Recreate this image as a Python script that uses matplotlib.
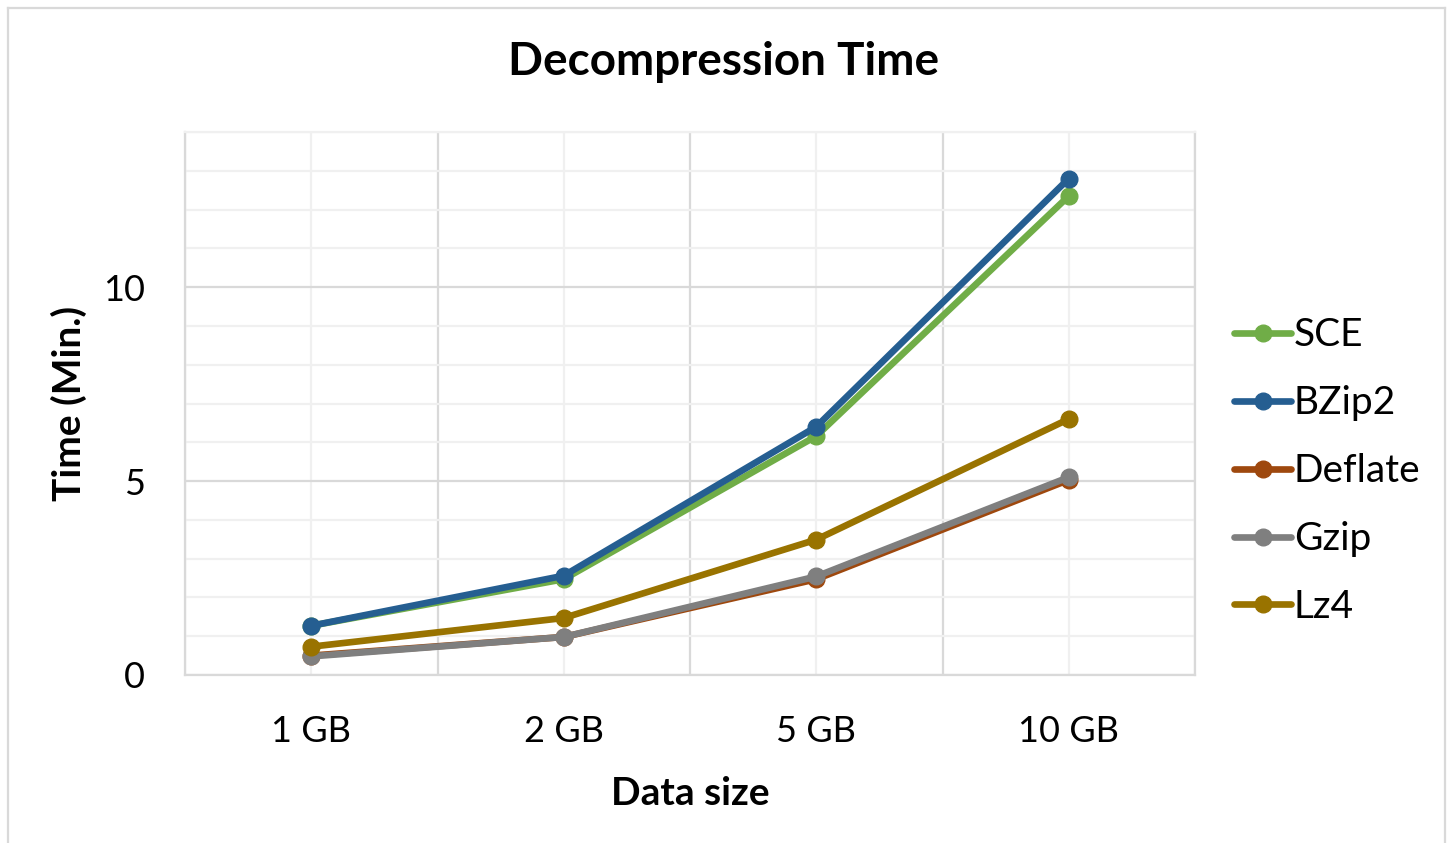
import matplotlib.pyplot as plt
import numpy as np
from matplotlib.lines import Line2D

plt.rcParams['font.family'] = ['Lato', 'DejaVu Sans']

sizes = ["1 GB", "2 GB", "5 GB", "10 GB"]
sce = [1.27, 2.47, 6.16, 12.35]
bzip2 = [1.27, 2.56, 6.40, 12.80]
deflate = [0.50, 0.98, 2.47, 5.03]
gzip = [0.48, 0.98, 2.54, 5.10]
lz4 = [0.73, 1.47, 3.49, 6.60]

series = [
    ("SCE", sce, "#70AD47"),
    ("BZip2", bzip2, "#255E91"),
    ("Deflate", deflate, "#9E480E"),
    ("Gzip", gzip, "#7F7F7F"),
    ("Lz4", lz4, "#997300"),
]

fig = plt.figure(figsize=(14.48, 8.43), dpi=100)
ax = fig.add_axes([185 / 1448, 168 / 843, 1010 / 1448, 543 / 843])

x = np.arange(len(sizes)) + 0.5
for name, vals, col in series:
    ax.plot(x, vals, color=col, lw=4.8, marker="o", ms=12, label=name,
            solid_capstyle="round", zorder=3)

ax.set_xlim(0, len(sizes))
ax.set_ylim(0, 14)
ax.set_xticks(np.arange(len(sizes) + 1))
ax.set_xticks(x, minor=True)
ax.set_xticklabels([])
ax.set_xticklabels(sizes, minor=True, fontsize=26)
ax.set_yticks([0, 5, 10])
ax.set_yticks(np.arange(0, 15), minor=True)
ax.tick_params(axis="both", which="both", length=0, labelsize=26)
ax.tick_params(axis="x", which="minor", pad=29)
ax.tick_params(axis="y", pad=29)
for t in ax.get_yticklabels():
    t.set_horizontalalignment("right")

ax.grid(which="major", color="#D9D9D9", lw=1.6)
ax.grid(which="minor", color="#F0F0F0", lw=1.6)
ax.set_axisbelow(True)
for s in ax.spines.values():
    s.set_color("#D9D9D9")
    s.set_linewidth(1.6)
ax.spines["top"].set_color("#F0F0F0")

ax.set_xlabel("Data size", fontsize=28, fontweight="bold", labelpad=20)
ax.set_ylabel("Time (Min.)", fontsize=28, fontweight="bold", labelpad=11)
fig.text(0.5, 0.927, "Decompression Time", ha="center", va="center",
         fontsize=33, fontweight="bold")

fig.legend(loc="center left", bbox_to_anchor=(1215 / 1448, 0.441),
           frameon=False, fontsize=28, handlelength=1.45, handletextpad=0.08,
           labelspacing=0.82, borderpad=0)

# light border around the chart area
for xs, ys in [([8, 8], [0, 835]), ([8, 1445], [835, 835]), ([1445, 1445], [0, 835])]:
    fig.add_artist(Line2D(np.array(xs) / 1448, np.array(ys) / 843,
                          color="#D9D9D9", lw=1.6))

fig.savefig("out.png", dpi=100)
